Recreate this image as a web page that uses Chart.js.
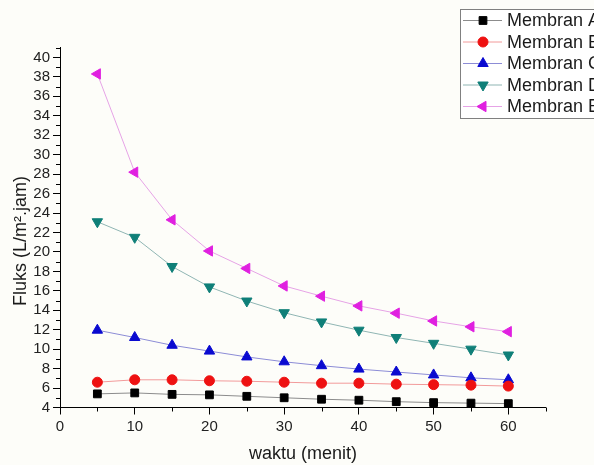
<!DOCTYPE html>
<html>
<head>
<meta charset="utf-8">
<script src="https://cdn.jsdelivr.net/npm/chart.js@4/dist/chart.umd.min.js"></script>
<style>
  html, body { margin: 0; padding: 0; background: #fdfdf9; }
  #wrap { width: 594px; height: 465px; }
</style>
</head>
<body>
<div id="wrap"><canvas id="chart" width="594" height="465"></canvas></div>
<script>
const waktu = [5, 10, 15, 20, 25, 30, 35, 40, 45, 50, 55, 60];
const membranA = [5.4, 5.5, 5.35, 5.3, 5.15, 5.0, 4.85, 4.75, 4.6, 4.5, 4.45, 4.4];
const membranB = [6.6, 6.85, 6.85, 6.75, 6.7, 6.6, 6.5, 6.5, 6.4, 6.35, 6.3, 6.2];
const membranC = [11.95, 11.2, 10.4, 9.8, 9.2, 8.7, 8.3, 7.95, 7.65, 7.35, 7.05, 6.85];
const membranD = [23.1, 21.5, 18.5, 16.4, 14.95, 13.75, 12.8, 11.95, 11.2, 10.6, 10.0, 9.4];
const membranE = [38.3, 28.2, 23.3, 20.1, 18.3, 16.5, 15.45, 14.45, 13.7, 12.9, 12.3, 11.8];
const seriesNames = ["Membran A", "Membran B", "Membran C", "Membran D", "Membran E"];
const xTicks = [0, 10, 20, 30, 40, 50, 60];
const yTicks = [4, 6, 8, 10, 12, 14, 16, 18, 20, 22, 24, 26, 28, 30, 32, 34, 36, 38, 40];

const FONT = "'Liberation Sans', Arial, sans-serif";

function pts(values) {
    return waktu.map((t, i) => ({ x: t, y: values[i] }));
}

const series = [
    { data: membranA, line: "#8c8c8c", mark: "#000000", style: "rect", radius: 5.5, rotation: 0 },
    { data: membranB, line: "#f29a9a", mark: "#ee1111", style: "circle", radius: 5, rotation: 0 },
    { data: membranC, line: "#8c8cd6", mark: "#0a0ad0", style: "triangle", radius: 6, rotation: 0 },
    { data: membranD, line: "#8fb5b3", mark: "#0f7f78", style: "triangle", radius: 6, rotation: 180 },
    { data: membranE, line: "#e6a3e6", mark: "#e020e0", style: "triangle", radius: 6, rotation: -90 },
];

// axis titles, minor ticks and the boxed legend in the top right corner
const extras = {
    id: "extras",
    afterDraw(chart) {
        const ctx = chart.ctx;
        const xs = chart.scales.x;
        const ys = chart.scales.y;
        ctx.save();

        ctx.strokeStyle = "#000";
        ctx.lineWidth = 1;
        ctx.beginPath();
        for (let v = 5; v <= 65; v += 10) {
            const px = Math.round(xs.getPixelForValue(v)) + 0.5;
            ctx.moveTo(px, ys.bottom);
            ctx.lineTo(px, ys.bottom + 4);
        }
        for (let v = 5; v <= 41; v += 2) {
            const py = Math.round(ys.getPixelForValue(v)) + 0.5;
            ctx.moveTo(xs.left, py);
            ctx.lineTo(xs.left - 4, py);
        }
        ctx.stroke();

        ctx.fillStyle = "#1a1a1a";
        ctx.font = "18px " + FONT;
        ctx.textAlign = "center";
        ctx.textBaseline = "middle";
        ctx.fillText("waktu (menit)", 303, 454);

        // y title runs against the left edge, tops of the letters trimmed
        ctx.save();
        ctx.beginPath();
        ctx.rect(13, 0, 40, chart.height);
        ctx.clip();
        ctx.translate(26, 241);
        ctx.rotate(-Math.PI / 2);
        ctx.textBaseline = "alphabetic";
        ctx.fillText("Fluks (L/m\u00b2.jam)", 0, 0);
        ctx.restore();

        // legend
        ctx.fillStyle = "#ffffff";
        ctx.fillRect(460.5, 9.5, 150, 109);
        ctx.strokeStyle = "#808080";
        ctx.strokeRect(460.5, 9.5, 150, 109);
        ctx.font = "18px " + FONT;
        ctx.textAlign = "left";
        ctx.textBaseline = "middle";
        series.forEach((s, i) => {
            const y = 20.5 + i * 21.5;
            ctx.strokeStyle = s.line;
            ctx.beginPath();
            ctx.moveTo(463, y);
            ctx.lineTo(502, y);
            ctx.stroke();
            ctx.fillStyle = s.mark;
            ctx.strokeStyle = s.mark;
            Chart.helpers.drawPoint(ctx, {
                pointStyle: s.style,
                radius: s.radius,
                rotation: s.rotation,
                borderWidth: 1,
            }, 483, y);
            ctx.fillStyle = "#1a1a1a";
            ctx.fillText(seriesNames[i], 507, y + 1);
        });

        ctx.restore();
    },
};

const ctx = document.getElementById("chart");
new Chart(ctx, {
    type: "line",
    data: {
        datasets: series.map((s, i) => ({
            label: seriesNames[i],
            data: pts(s.data),
            borderColor: s.line,
            borderWidth: 1,
            pointStyle: s.style,
            pointRadius: s.radius,
            pointRotation: s.rotation,
            pointBackgroundColor: s.mark,
            pointBorderColor: s.mark,
            pointBorderWidth: 1,
            tension: 0,
            clip: false,
        })),
    },
    options: {
        responsive: false,
        animation: false,
        layout: {
            padding: { top: 47.7, right: 48.3, left: 0, bottom: 0 },
        },
        scales: {
            x: {
                type: "linear",
                min: 0,
                max: 65,
                afterBuildTicks: (s) => { s.ticks = xTicks.map((v) => ({ value: v })); },
                afterFit: (s) => { s.height = 57.5; },
                grid: { drawOnChartArea: false, tickLength: 7, tickColor: "#000" },
                border: { color: "#000", width: 1 },
                ticks: { color: "#222", font: { family: FONT, size: 15 }, padding: 3, maxRotation: 0, autoSkip: false },
            },
            y: {
                type: "linear",
                min: 4,
                max: 41,
                afterBuildTicks: (s) => { s.ticks = yTicks.map((v) => ({ value: v })); },
                afterFit: (s) => { s.width = 60; },
                grid: { drawOnChartArea: false, tickLength: 7, tickColor: "#000" },
                border: { color: "#000", width: 1 },
                ticks: { color: "#222", font: { family: FONT, size: 15 }, padding: 3, autoSkip: false },
            },
        },
        plugins: {
            legend: { display: false },
            tooltip: { enabled: false },
        },
    },
    plugins: [extras],
});
</script>
</body>
</html>
